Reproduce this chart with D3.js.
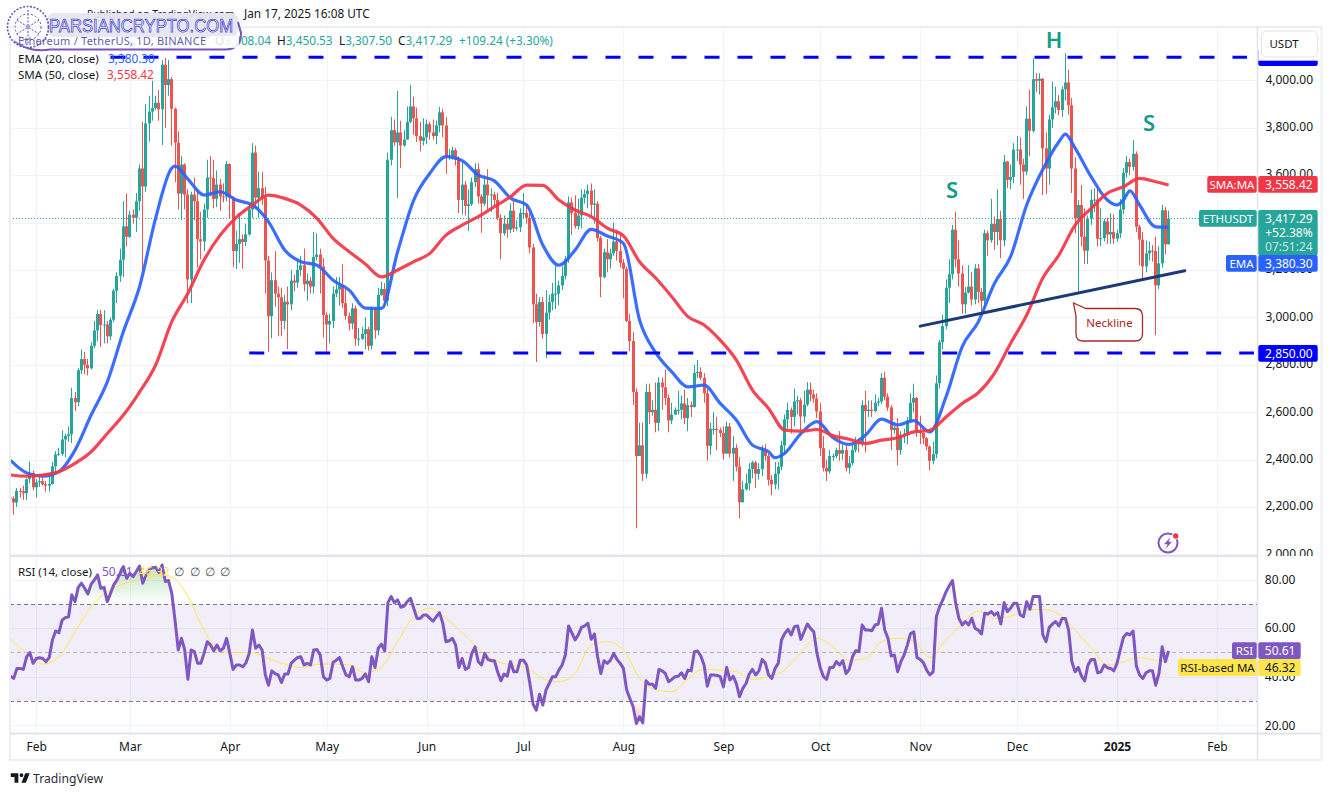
<!DOCTYPE html>
<html>
<head>
<meta charset="utf-8">
<script src="https://cdnjs.cloudflare.com/ajax/libs/d3/7.9.0/d3.min.js"></script>
<style>
  html, body { margin: 0; padding: 0; background: #fff; }
  svg { display: block; font-family: "Noto Sans", sans-serif; }
</style>
</head>
<body>
<div id="chart"></div>
<script>
// daily candles, Jan 24 2024 to Jan 17 2025, one line per month. open = previous close
const firstOpen = 2240;
const closes = [
  2236,2219,2268,2267,2258,2317,2344,2283,
  2304,2309,2296,2290,2297,2372,2421,2424,2485,2500,2507,2660,2642,2777,2824,2800,2785,2880,2945,3014,2968,2970,2920,2990,3112,3175,3243,3384,3340,
  3433,3420,3490,3628,3552,3818,3868,3883,3905,3878,4066,3980,4005,3880,3737,3522,3645,3518,3160,3518,3490,3330,3320,3455,3590,3587,3500,3560,3510,3509,3647,
  3505,3280,3310,3330,3318,3350,3455,3695,3505,3545,3505,3240,3005,3157,3100,3085,2985,3066,3055,3155,3147,3200,3220,3140,3155,3130,3255,3265,3215,3010,
  2970,2985,3100,3118,3135,3060,3006,2974,3038,2910,2910,2930,2950,2880,3036,2945,3095,3120,3070,3665,3790,3738,3780,3725,3750,3825,3890,3840,3765,3745,3760,
  3815,3780,3765,3810,3865,3810,3680,3680,3705,3665,3495,3560,3470,3477,3570,3625,3510,3480,3560,3515,3518,3495,3420,3355,3395,3370,3450,3375,3380,3440,
  3440,3420,3295,3055,2980,3065,2930,3020,3065,3100,3100,3135,3175,3245,3485,3440,3385,3430,3505,3520,3535,3475,3480,3335,3170,3275,3245,3270,3320,3280,3230,
  3205,2985,2900,2685,2415,2460,2340,2685,2600,2610,2555,2725,2705,2660,2565,2590,2610,2610,2637,2575,2630,2622,2765,2770,2745,2680,2458,2530,2530,2525,2512,
  2425,2540,2425,2450,2370,2220,2275,2300,2360,2388,2340,2360,2440,2415,2315,2295,2340,2370,2460,2570,2610,2580,2645,2650,2582,2632,2695,2675,2658,2603,
  2448,2365,2350,2415,2415,2440,2425,2440,2365,2385,2440,2475,2465,2630,2605,2610,2605,2640,2645,2745,2665,2620,2525,2535,2440,2505,2510,2565,2640,2660,2520,
  2512,2490,2455,2395,2423,2722,2895,2963,3125,3182,3370,3245,3185,3055,3105,3130,3075,3207,3108,3070,3355,3325,3395,3360,3415,3325,3657,3580,3592,3708,
  3708,3645,3615,3838,3787,4005,3998,4007,3713,3628,3835,3886,3912,3875,3962,3991,3895,3628,3417,3474,3340,3281,3417,3495,3497,3332,3334,3405,3350,3360,3332,
  3355,3455,3610,3655,3635,3690,3382,3328,3215,3270,3282,3280,3135,3228,3452,3308.04,3417.29
];
const highs = [
  2262,2245,2280,2280,2290,2321,2392,2354,
  2318,2340,2325,2310,2340,2390,2435,2450,2524,2510,2540,2703,2685,2785,2865,2855,2825,2895,2985,3030,3032,3030,2985,3000,3120,3190,3290,3490,3522,
  3450,3455,3525,3645,3825,3900,3935,3998,3935,3960,4085,4095,4085,4015,3885,3785,3680,3650,3540,3530,3590,3540,3445,3480,3665,3680,3665,3620,3585,3565,3660,
  3650,3510,3365,3440,3350,3395,3480,3735,3725,3615,3615,3550,3260,3190,3280,3130,3125,3095,3130,3200,3180,3240,3260,3290,3185,3170,3360,3355,3290,3250,
  3020,3015,3130,3170,3170,3225,3130,3020,3060,3050,2955,2960,3000,2960,3045,3040,3125,3150,3145,3695,3846,3835,3955,3830,3790,3890,3980,3930,3885,3825,3840,
  3835,3825,3835,3830,3888,3880,3845,3710,3720,3715,3680,3660,3575,3540,3590,3650,3650,3520,3600,3625,3545,3530,3525,3435,3430,3420,3480,3490,3410,3460,
  3525,3475,3440,3310,3100,3085,3085,3115,3095,3145,3220,3155,3215,3260,3510,3505,3515,3500,3540,3540,3560,3565,3540,3490,3345,3290,3330,3290,3400,3370,3350,
  3245,3215,3015,2938,2700,2555,2555,2720,2720,2650,2725,2748,2745,2780,2675,2640,2620,2690,2670,2695,2660,2645,2800,2820,2790,2765,2700,2555,2600,2580,2535,
  2540,2560,2555,2500,2465,2410,2310,2340,2385,2395,2395,2385,2460,2465,2425,2335,2390,2390,2480,2590,2640,2620,2700,2670,2660,2690,2727,2725,2695,2680,
  2640,2500,2400,2440,2425,2450,2520,2465,2465,2415,2465,2495,2490,2650,2690,2650,2650,2675,2660,2765,2770,2680,2630,2560,2575,2520,2530,2580,2680,2720,2665,
  2585,2515,2495,2460,2475,2755,2905,3010,3160,3245,3390,3445,3325,3220,3128,3220,3190,3225,3225,3125,3370,3365,3500,3425,3540,3450,3685,3660,3645,3735,
  3765,3760,3670,3890,3960,4092,4030,4030,4010,3780,3855,3994,3973,3938,3975,4114,4045,3925,3675,3495,3558,3460,3430,3540,3545,3550,3460,3415,3420,3440,3435,
  3370,3500,3630,3680,3670,3748,3700,3390,3360,3325,3320,3305,3340,3300,3475,3465,3450.53
];
const lows = [
  2196,2168,2200,2240,2230,2230,2300,2270,
  2240,2285,2290,2265,2265,2295,2340,2416,2414,2410,2475,2470,2605,2625,2760,2760,2755,2780,2870,2900,2876,2890,2890,2905,2980,3060,3150,3170,3300,
  3335,3395,3360,3450,3200,3530,3741,3830,3875,3830,3727,3800,3935,3725,3570,3455,3410,3455,3060,3060,3410,3210,3245,3280,3420,3510,3460,3465,3450,3485,3490,
  3418,3212,3205,3230,3205,3300,3345,3420,3460,3420,3475,3100,2855,2912,3045,2920,2920,2950,2866,3030,3110,3125,3175,3110,3070,3100,3100,3240,3100,2915,
  2855,2890,2955,3085,3050,3040,2990,2945,2950,2880,2880,2905,2865,2860,2865,2910,2925,3090,3040,3047,3640,3725,3503,3630,3720,3750,3820,3770,3740,3700,3725,
  3730,3750,3750,3730,3780,3760,3605,3665,3665,3640,3440,3435,3430,3365,3470,3550,3480,3357,3470,3455,3445,3470,3410,3245,3345,3335,3355,3360,3365,3360,
  3420,3395,3270,2975,2812,2960,2910,2828,2990,3030,3035,3050,3115,3160,3230,3348,3375,3370,3375,3480,3460,3420,3395,3320,3085,3165,3190,3205,3260,3240,3210,
  3080,2980,2858,2630,2110,2415,2310,2320,2550,2585,2515,2520,2610,2630,2515,2550,2590,2590,2570,2550,2520,2580,2620,2745,2735,2640,2395,2420,2505,2440,2495,
  2400,2430,2410,2310,2350,2152,2220,2270,2270,2320,2280,2315,2330,2395,2290,2250,2275,2275,2355,2420,2530,2510,2540,2590,2520,2555,2625,2645,2640,2575,
  2415,2350,2310,2340,2395,2405,2395,2400,2350,2340,2375,2430,2430,2455,2430,2580,2580,2600,2625,2635,2650,2605,2440,2510,2375,2420,2470,2465,2555,2600,2495,
  2465,2465,2440,2355,2380,2405,2700,2865,2950,3060,3160,3210,3130,3015,3015,3100,3050,3055,3060,3020,3035,3260,3315,3285,3305,3250,3300,3545,3540,3565,
  3660,3560,3500,3600,3680,3780,3950,3940,3516,3520,3560,3800,3860,3853,3845,3915,3855,3525,3355,3108,3300,3225,3225,3390,3445,3300,3300,3320,3310,3310,3310,
  3320,3335,3435,3590,3600,3620,3360,3220,3155,3190,3240,3235,2925,3120,3210,3265,3307.5
];

// moving averages every 5th candle, and the last one
const maDays = [...d3.range(0, 356, 5), 359];
const ema20 = [2397,2344,2330,2349,2440,2588,2728,2940,3129,3419,3630,3583,3516,3530,3495,3474,3403,3284,3235,3220,3157,3115,3039,3038,3277,3495,3608,3678,3661,3600,3576,3503,3474,3305,3220,3284,3371,3343,3312,2989,2851,2770,2707,2714,2637,2567,2461,2433,2427,2510,2560,2492,2464,2503,2571,2546,2564,2517,2665,2876,2981,3143,3256,3474,3624,3741,3714,3593,3495,3495,3474,3382,3380.3];
// extra EMA readings at its turning points
const emaTurnDays = [51, 237, 327, 343, 347];
const emaTurns = [3638, 2408, 3773, 3474, 3534];
const sma50 = [2335,2330,2335,2349,2384,2433,2510,2588,2685,2799,2982,3102,3242,3347,3422,3474,3516,3502,3474,3418,3333,3277,3225,3171,3200,3235,3270,3347,3389,3425,3467,3509,3558,3557,3495,3453,3425,3376,3344,3235,3166,3087,3003,2968,2904,2820,2693,2616,2524,2520,2527,2500,2486,2468,2482,2492,2517,2524,2580,2637,2682,2764,2890,3010,3166,3263,3389,3460,3523,3551,3586,3572,3558.42];
const rsiMa = [55.8,49.6,45.2,48.2,58.5,68.8,75,78.2,79.8,81.5,80.9,73,59.2,50.3,49.9,49.9,47.5,45.2,43.8,45,45.2,44.8,41.6,44.1,54.4,64.7,68.2,64,58.1,51.7,46.8,44.8,43.7,39.3,37.9,41.3,53,54.4,51,39.3,34.7,33.8,39.3,43,42.7,42,38.9,40,42.7,49.9,55.8,52.3,46.8,47.5,54.4,55.8,54.7,47.9,55.4,61.7,67,64,65,67.5,67.7,65.7,59.2,51.9,44.8,46.2,47.8,46.8,46.32];

// RSI (14), one value per candle
const rsi = [
  40.2,39.3,43.4,43.4,43,48.2,49.9,45.5,47.5,47.8,47.5,46.2,47.9,55.1,58.8,58.1,63.3,64.3,64.7,73.7,
  70.9,76.8,78.5,76.4,74.1,78.1,79.8,81.9,76.4,76.8,70.9,74.3,77.8,79.8,82.6,85.3,80.5,82.6,81.2,83.3,
  85.6,78.5,81.9,84.2,84.9,85.1,82.9,86,79.2,79.6,74.3,63.3,51,55.8,51,38.9,51,50.3,45.5,45.5,
  49.6,54.4,53,50.7,53,50.7,51.7,55.8,49.6,43,44.8,44.8,44.1,45.7,49.6,59.2,51.7,53,51,40.7,
  36.5,42.4,41.3,40.7,37.6,41.1,41.1,45.5,46.8,47.9,48.2,44.8,45.5,44.8,51,51.2,48.9,40,38.6,39.3,
  45.9,46.8,47.9,44.1,40.7,40,44.1,38.6,38.6,39.3,41.1,37.9,48.2,43.8,51.7,53.4,50.6,70.5,73,70.5,
  71.6,68.6,69.1,70.9,72.3,68.2,64,64,65.4,65.4,64,62.9,64.7,66.4,62,54.4,54.8,
  55.8,53,43.8,47.5,43,43.8,49.6,52.3,46.2,44.8,49.6,47.1,46.6,46.6,42,38.3,41.1,40.2,46.2,42,
  42,46.8,46.8,44.8,37.2,28.7,26.2,32.8,28.3,34.5,37.2,40,40,42.7,44.8,48.9,60.9,58.1,55.1,57.2,
  60.3,60.9,62,55.4,57.6,48.2,41.3,46.6,45.5,46.8,49.6,47.1,45.5,43.4,34.5,31,27.6,20.7,23.5,21,
  38.3,36.9,36.9,35.2,43,42.4,41.3,37.9,38.9,40,40.2,41.6,39.3,42.7,42.4,50.3,50.6,48.5,44.8,36.1,
  40.7,40.7,40.5,40,35.8,43.8,38.6,40.2,37.2,31.7,35.2,37.2,41.1,43,40.7,42.4,47.1,45.5,40.7,39.3,
  43.4,45.5,55.1,57.8,59.5,57.2,60.6,60.9,55.4,58.5,61.7,59.9,58.5,49.6,43.8,40,38.9,43.8,43.8,46.2,
  44.8,46.6,41.3,43,48.2,50.7,50.3,61.3,59.2,59.2,58.9,61.3,61.7,68.2,59.2,55.8,48.5,48.9,42,46.2,
  48.9,53,57.8,58.5,47.9,47.1,45.7,42.7,40.7,42,64.7,68.8,71.6,75,77.4,79.6,70.2,64,61.3,62.7,
  61.3,64,59.9,59.2,57.6,66.1,65.8,66.8,65.4,66.4,61.7,70.5,66.8,68.2,70.2,70.2,65.4,64.7,70.9,67.7,
  73,73,73,57.2,54.4,60.3,61.7,62.7,60.9,64,64,59.2,46.2,42,43.8,40.2,38.3,44.8,47.1,47.1,
  41.6,42,44.8,43.7,43.4,42.4,45.5,51,56.2,57.8,57.2,58.8,44.4,40.7,39.3,41.6,42.4,42.4,36.5,41.3,
  52.3,46.2,50.61
];

const priceGrid = [4000,3800,3600,3400,3200,3000,2800,2600,2400,2200,2000];
const priceLabels = [4000,3800,3600,3200,3000,2800,2600,2400,2200,2000]; // 3,400 sits fully under the ETHUSDT tag
const rsiTicks = [80,60,40,20];
const monthTicks = [[2024,1],[2024,2],[2024,3],[2024,4],[2024,5],[2024,6],[2024,7],[2024,8],[2024,9],[2024,10],[2024,11],[2025,0],[2025,1]];

// support / resistance and neckline, as [date, price] pairs
const topLevel = 4097, bottomLevel = 2850;
const neckline = [[Date.UTC(2024,10,1), 2963], [Date.UTC(2025,0,22), 3197]];

const green = "#26a69a", red = "#ef5350", blue = "#2962ff", pure = "#0000ff",
  purple = "#7e57c2", yellow = "#ffe54c", grid = "#f0f3fa", border = "#e0e3eb", ink = "#131722";

const width = 1333, height = 796;
const left = 10, right = 1257.5;
const priceTop = 27, priceBottom = 556, rsiTop = 556, rsiBottom = 733.5;

const svg = d3.select("#chart").append("svg").attr("width", width).attr("height", height);
const defs = svg.append("defs");

// scales
const x = d3.scaleUtc()
  .domain([new Date(Date.UTC(2024,1,1)), new Date(Date.UTC(2025,1,1))])
  .range([36.3, 36.3 + 366 * 3.226]);
const y = d3.scaleLinear().domain([1993.3, 4225]).range([priceBottom, priceTop]);
const yRsi = d3.scaleLinear().domain([16.6, 89.7]).range([rsiBottom, rsiTop]);

const dates = d3.utcDay.range(new Date(Date.UTC(2024,0,24)), new Date(Date.UTC(2025,0,18)));
const candles = dates.map((date, i) => ({
  date, close: closes[i], high: highs[i], low: lows[i],
  open: i ? closes[i - 1] : firstOpen
}));
const months = monthTicks.map(m => new Date(Date.UTC(m[0], m[1], 1)));

defs.append("clipPath").attr("id", "price-clip").append("rect")
  .attr("x", left).attr("y", priceTop).attr("width", right - left).attr("height", priceBottom - priceTop);
defs.append("clipPath").attr("id", "rsi-clip").append("rect")
  .attr("x", left).attr("y", rsiTop).attr("width", right - left).attr("height", rsiBottom - rsiTop);
defs.append("clipPath").attr("id", "scale-clip").append("rect")
  .attr("x", right).attr("y", priceTop).attr("width", 70).attr("height", priceBottom - priceTop);

// grid
const gridG = svg.append("g").attr("stroke", grid).attr("stroke-width", 1);
gridG.selectAll(".v").data(months).join("line")
  .attr("x1", d => Math.round(x(d)) + .5).attr("x2", d => Math.round(x(d)) + .5)
  .attr("y1", priceTop).attr("y2", rsiBottom);
gridG.selectAll(".h").data(priceGrid).join("line")
  .attr("x1", left).attr("x2", right)
  .attr("y1", d => Math.round(y(d)) + .5).attr("y2", d => Math.round(y(d)) + .5);
gridG.selectAll(".r").data(rsiTicks).join("line")
  .attr("x1", left).attr("x2", right)
  .attr("y1", d => Math.round(yRsi(d)) + .5).attr("y2", d => Math.round(yRsi(d)) + .5);

// last price dotted line
svg.append("line").attr("x1", left).attr("x2", 1199)
  .attr("y1", Math.round(y(closes[closes.length - 1])) + .5).attr("y2", Math.round(y(closes[closes.length - 1])) + .5)
  .attr("stroke", green).attr("stroke-dasharray", "1 2");

// candles
const cx = d => Math.round(x(d.date) - 1.5) + 1.5;
const colour = d => d.close >= d.open ? green : red;
const candleG = svg.append("g").attr("clip-path", "url(#price-clip)");
candleG.selectAll(".wick").data(candles).join("line")
  .attr("x1", cx).attr("x2", cx)
  .attr("y1", d => y(d.high)).attr("y2", d => y(d.low))
  .attr("stroke", colour).attr("stroke-width", 1);
candleG.selectAll(".body").data(candles).join("rect")
  .attr("x", d => cx(d) - 1.5).attr("width", 3)
  .attr("y", d => Math.min(y(d.open), y(d.close)))
  .attr("height", d => Math.max(1, Math.abs(y(d.open) - y(d.close))))
  .attr("fill", colour);

// EMA and SMA
const maLine = d3.line().x(d => x(dates[d.i])).y(d => y(d.v)).curve(d3.curveMonotoneX);
const maData = vals => maDays.map((i, k) => ({ i, v: vals[k] }));
const emaData = maData(ema20)
  .concat(emaTurnDays.map((i, k) => ({ i, v: emaTurns[k] })))
  .sort((a, b) => a.i - b.i);
svg.append("path").attr("clip-path", "url(#price-clip)").attr("d", maLine(emaData))
  .attr("fill", "none").attr("stroke", blue).attr("stroke-width", 3.2).attr("stroke-opacity", .92);
svg.append("path").attr("clip-path", "url(#price-clip)").attr("d", maLine(maData(sma50)))
  .attr("fill", "none").attr("stroke", "#f23645").attr("stroke-width", 3.2).attr("stroke-opacity", .92);

// dashed horizontal levels
svg.append("line").attr("x1", x(new Date(Date.UTC(2024,1,24)))).attr("x2", 1247)
  .attr("y1", y(topLevel)).attr("y2", y(topLevel))
  .attr("stroke", pure).attr("stroke-width", 3).attr("stroke-dasharray", "15 18");
svg.append("line").attr("x1", x(new Date(Date.UTC(2024,3,7)))).attr("x2", 1254)
  .attr("y1", y(bottomLevel)).attr("y2", y(bottomLevel))
  .attr("stroke", pure).attr("stroke-width", 3).attr("stroke-dasharray", "15 18");

// neckline
svg.append("line")
  .attr("x1", x(neckline[0][0])).attr("y1", y(neckline[0][1]))
  .attr("x2", x(neckline[1][0])).attr("y2", y(neckline[1][1]))
  .attr("stroke", "#1b3a78").attr("stroke-width", 3).attr("stroke-linecap", "round");

// head and shoulders letters
svg.selectAll(".hs").data([["S", 952, 198], ["H", 1054, 48], ["S", 1149, 131]]).join("text")
  .attr("x", d => d[1]).attr("y", d => d[2]).attr("text-anchor", "middle")
  .attr("font-size", 22).attr("font-weight", 600).attr("fill", "#129a8a").text(d => d[0]);

// neckline callout
svg.append("path")
  .attr("d", "M1073.5 303 L1086 308.5 H1135 Q1142.5 308.5 1142.5 316 V334 Q1142.5 341 1135 341 H1083 Q1076 341 1076 334 V316 Z")
  .attr("fill", "#fff").attr("stroke", "#a52a2a").attr("stroke-width", 1.3);
svg.append("text").attr("x", 1109.5).attr("y", 327).attr("text-anchor", "middle")
  .attr("font-size", 11.5).attr("fill", "#b22222").text("Neckline");

// lightning icon
const icon = svg.append("g").attr("transform", "translate(1168,543)");
icon.append("circle").attr("r", 9.5).attr("fill", "none").attr("stroke", purple).attr("stroke-width", 2);
icon.append("path").attr("d", "M2.5 -6 L-4 1.2 H-0.5 L-2.5 6 L4 -1.2 H0.5 Z").attr("fill", purple);
icon.append("circle").attr("cx", 7.7).attr("cy", -7).attr("r", 3.6).attr("fill", "#fff");
icon.append("circle").attr("cx", 7.7).attr("cy", -7).attr("r", 2.7).attr("fill", "#f23645");

// RSI pane
const rsiG = svg.append("g");
rsiG.append("rect").attr("x", left).attr("width", right - left)
  .attr("y", yRsi(70)).attr("height", yRsi(30) - yRsi(70)).attr("fill", purple).attr("fill-opacity", .1);

const over = defs.append("linearGradient").attr("id", "over").attr("gradientUnits", "userSpaceOnUse")
  .attr("x1", 0).attr("x2", 0).attr("y1", yRsi(88)).attr("y2", yRsi(70));
over.append("stop").attr("offset", 0).attr("stop-color", "#4caf50").attr("stop-opacity", .4);
over.append("stop").attr("offset", 1).attr("stop-color", "#4caf50").attr("stop-opacity", 0);
const under = defs.append("linearGradient").attr("id", "under").attr("gradientUnits", "userSpaceOnUse")
  .attr("x1", 0).attr("x2", 0).attr("y1", yRsi(30)).attr("y2", yRsi(20));
under.append("stop").attr("offset", 0).attr("stop-color", "#f23645").attr("stop-opacity", 0);
under.append("stop").attr("offset", 1).attr("stop-color", "#f23645").attr("stop-opacity", .4);

rsiG.append("path").attr("fill", "url(#over)")
  .attr("d", d3.area().x((d, i) => x(dates[i])).y0(yRsi(70)).y1(d => yRsi(Math.max(d, 70)))(rsi));
rsiG.append("path").attr("fill", "url(#under)")
  .attr("d", d3.area().x((d, i) => x(dates[i])).y0(yRsi(30)).y1(d => yRsi(Math.min(d, 30)))(rsi));

[[70, "#787b86"], [50, "#b2b5be"], [30, "#787b86"]].forEach(([v, c]) => {
  rsiG.append("line").attr("x1", left).attr("x2", right)
    .attr("y1", Math.round(yRsi(v)) + .5).attr("y2", Math.round(yRsi(v)) + .5)
    .attr("stroke", c).attr("stroke-dasharray", "4 3");
});

rsiG.append("path").attr("clip-path", "url(#rsi-clip)")
  .attr("d", d3.line().x(d => x(dates[d.i])).y(d => yRsi(d.v)).curve(d3.curveMonotoneX)(maData(rsiMa)))
  .attr("fill", "none").attr("stroke", yellow).attr("stroke-width", 1);
rsiG.append("path").attr("clip-path", "url(#rsi-clip)")
  .attr("d", d3.line().x((d, i) => x(dates[i])).y(d => yRsi(d))(rsi))
  .attr("fill", "none").attr("stroke", purple).attr("stroke-width", 3).attr("stroke-linejoin", "round");

// frame and pane separators
const frame = svg.append("g").attr("fill", "none").attr("stroke", border);
frame.append("rect").attr("x", 10).attr("y", 27).attr("width", 1311.5).attr("height", 733)
  .attr("stroke-width", 2).attr("stroke", "#eceef5");
frame.append("line").attr("x1", left).attr("x2", right).attr("y1", rsiTop).attr("y2", rsiTop).attr("stroke-width", 2);
frame.append("line").attr("x1", left).attr("x2", 1321).attr("y1", rsiBottom).attr("y2", rsiBottom).attr("stroke-width", 2);
frame.append("line").attr("x1", right).attr("x2", right).attr("y1", 27).attr("y2", 760).attr("stroke-width", 1.5);

// axes, the lowest price label is cut by the RSI pane
const priceAxis = svg.append("g").attr("clip-path", "url(#scale-clip)").append("g").attr("transform", `translate(${right},-1)`)
  .call(d3.axisRight(y).tickValues(priceLabels).tickSize(0).tickFormat(d3.format(",.2f")));
const rsiAxis = svg.append("g").attr("transform", `translate(${right},0)`)
  .call(d3.axisRight(yRsi).tickValues(rsiTicks).tickSize(0).tickFormat(d3.format(".2f")));
const timeAxis = svg.append("g").attr("transform", `translate(0,${rsiBottom})`)
  .call(d3.axisBottom(x).tickValues(months).tickSize(0).tickPadding(9)
    .tickFormat(d => d.getUTCMonth() === 0 ? d.getUTCFullYear() : d3.utcFormat("%b")(d)));
[priceAxis, rsiAxis, timeAxis].forEach(a => {
  a.select(".domain").remove();
  a.selectAll("text").attr("font-size", 12).attr("font-family", '"Noto Sans", sans-serif').attr("fill", ink);
});
priceAxis.selectAll("text").attr("x", 55.5).attr("text-anchor", "end");
rsiAxis.selectAll("text").attr("x", 38).attr("text-anchor", "end");
timeAxis.selectAll("text").filter(d => d.getUTCMonth() === 0).attr("font-weight", 700);

// price scale tags
function tag(x0, x1, y0, y1, fill, r) {
  svg.append("rect").attr("x", x0).attr("y", y0).attr("width", x1 - x0).attr("height", y1 - y0)
    .attr("rx", r === undefined ? 2 : r).attr("fill", fill);
}
function label(tx, ty, s, fill, anchor, opacity, size) {
  svg.append("text").attr("x", tx).attr("y", ty).attr("text-anchor", anchor || "middle")
    .attr("font-size", size || 12).attr("fill", fill).attr("fill-opacity", opacity || 1).text(s);
}
const f2 = d3.format(",.2f");

// top level tag sits behind the currency button
tag(1258.3, 1317.7, 49, 66, pure);
svg.append("rect").attr("x", 1258.3).attr("y", 28).attr("width", 62).attr("height", 32.7).attr("fill", "#fff");
svg.append("rect").attr("x", 1261.5).attr("y", 31).attr("width", 56).attr("height", 26).attr("rx", 5)
  .attr("fill", "#fff").attr("stroke", border);
label(1284, 48, "USDT", ink, "middle", 1, 11.5);

tag(1207.3, 1256.7, 176, 192.7, "#f23645");
tag(1258.3, 1317.7, 176, 192.7, "#f23645");
label(1232, 188.5, "SMA:MA", "#fff", "middle", 1, 11.5);
label(1312.7, 188.5, f2(sma50[sma50.length - 1]), "#fff", "end");

tag(1199, 1256.7, 210, 226.7, green);
tag(1258.3, 1317.7, 210, 255.5, green);
label(1228, 222.5, "ETHUSDT", "#fff", "middle", 1, 11.5);
label(1312.7, 222.5, f2(closes[closes.length - 1]), "#fff", "end");
label(1312.7, 236.5, "+52.38%", "#fff", "end");
label(1312.7, 250.5, "07:51:24", "#fff", "end", .75);

tag(1226, 1256.7, 255, 271.7, blue);
tag(1258.3, 1317.7, 255, 271.7, blue);
label(1241.5, 267.5, "EMA", "#fff", "middle", 1, 11.5);
label(1312.7, 267.5, f2(ema20[ema20.length - 1]), "#fff", "end");

tag(1258.3, 1317.7, 345, 361.7, pure);
label(1312.7, 357.5, f2(bottomLevel), "#fff", "end");

tag(1232, 1256.7, 642.3, 659, purple);
tag(1258.3, 1300.7, 642.3, 659, purple);
label(1244.5, 654.5, "RSI", "#fff", "middle", 1, 11.5);
label(1295.5, 654.5, "50.61", "#fff", "end");

tag(1178, 1256.7, 659, 676, yellow);
tag(1258.3, 1300.7, 659, 676, yellow);
label(1217.5, 671.5, "RSI-based MA", ink, "middle", 1, 11.5);
label(1295.5, 671.5, "46.32", ink, "end");

// legend text
svg.append("text").attr("x", 87).attr("y", 18).attr("font-size", 11).attr("textLength", 150)
  .attr("lengthAdjust", "spacingAndGlyphs").attr("fill", ink).text("Published on TradingView.com,");
label(244, 18, "Jan 17, 2025 16:08 UTC", ink, "start", 1, 11.8);
[["O", "3,308.04", 215], ["H", "3,450.53", 277], ["L", "3,307.50", 339], ["C", "3,417.29", 398]].forEach(([k, v, px]) => {
  const t = svg.append("text").attr("x", px).attr("y", 45).attr("font-size", 11.8).attr("fill", green);
  t.append("tspan").attr("fill", ink).text(k);
  t.append("tspan").text(v);
});
label(459, 45, "+109.24 (+3.30%)", green, "start", 1, 11.8);
label(18, 63, "EMA (20, close)", ink, "start", 1, 11.5);
label(108, 63, f2(ema20[ema20.length - 1]), blue, "start", 1, 11.8);
label(18, 79, "SMA (50, close)", ink, "start", 1, 11.5);
label(107, 79, f2(sma50[sma50.length - 1]), "#f23645", "start", 1, 11.8);
label(18, 576, "RSI (14, close)", ink, "start", 1, 11.5);
label(102, 576, "50.61", purple, "start");
label(139, 576, "46.32", yellow, "start");
[179, 195, 210, 225].forEach(px => label(px, 576, "∅", "#50535e"));

// watermark stamped over the top left corner
const mark = svg.append("g");
mark.append("rect").attr("x", 47).attr("y", 13).attr("width", 191).attr("height", 24).attr("rx", 7)
  .attr("fill", "#e6e6f1").attr("fill-opacity", .95);
mark.append("path").attr("d", "M14 41 Q30 53 50 49.5 H225 Q241 49.5 241 33 L238 22")
  .attr("fill", "none").attr("stroke", "#7754bb").attr("stroke-width", 2);
mark.append("rect").attr("x", 210).attr("y", 36).attr("width", 29).attr("height", 12).attr("fill", "#fff").attr("fill-opacity", .85);
mark.append("circle").attr("cx", 28).attr("cy", 27).attr("r", 20.5).attr("fill", "#fff").attr("fill-opacity", .3)
  .attr("stroke", "#6a4fc0").attr("stroke-width", 1.6).attr("stroke-dasharray", "2 1.5");
mark.append("circle").attr("cx", 28).attr("cy", 27).attr("r", 13).attr("fill", "none")
  .attr("stroke", "#6a4fc0").attr("stroke-dasharray", "2 2");
mark.append("path").attr("d", "M17 20 L39 34 M39 20 L17 34 M28 10 V44").attr("stroke", "#4a4ac8").attr("stroke-dasharray", "2 1.5");
mark.append("text").attr("x", 49).attr("y", 32).attr("font-size", 17.5).attr("textLength", 184)
  .attr("lengthAdjust", "spacingAndGlyphs").attr("font-family", '"Liberation Sans", sans-serif')
  .attr("fill", "#f7f7ff").attr("stroke", "#4747c8").attr("stroke-width", .75).text("PARSIANCRYPTO.COM");
// symbol line shows through the stamp as a blue ghost
svg.append("text").attr("x", 18).attr("y", 45).attr("font-size", 11).attr("textLength", 188)
  .attr("fill", "#3d3d9c").attr("fill-opacity", .85).text("Ethereum / TetherUS, 1D, BINANCE");

// TradingView logo
svg.append("path").attr("transform", "translate(9.5,769.5) scale(0.63)")
  .attr("d", "M14 6H2v6h6v9h6V6Zm12 15h-7l6-15h7l-6 15Zm-7-9a3 3 0 1 0 0-6 3 3 0 0 0 0 6Z").attr("fill", ink);
svg.append("text").attr("x", 33).attr("y", 783).attr("font-size", 13).attr("textLength", 70)
  .attr("lengthAdjust", "spacingAndGlyphs").attr("fill", "#2a2e39").text("TradingView");
</script>
</body>
</html>
